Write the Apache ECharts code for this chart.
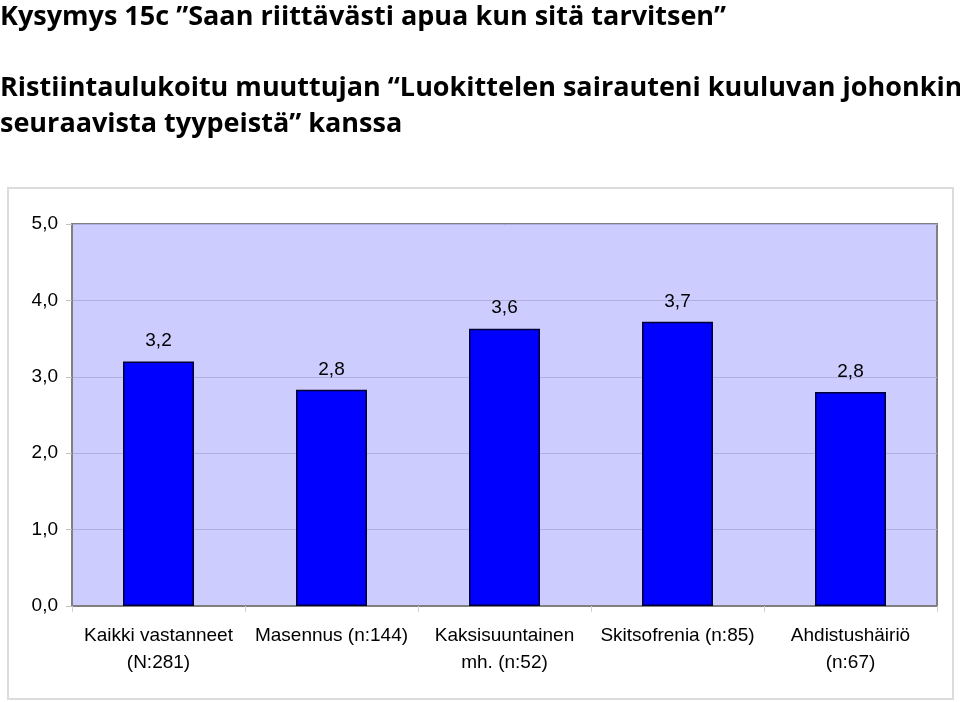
<!DOCTYPE html>
<html>
<head>
<meta charset="utf-8">
<script src="https://cdn.jsdelivr.net/npm/echarts@6/dist/echarts.min.js"></script>
<style>
html,body{margin:0;padding:0;background:#fff;}
#chart{width:960px;height:702px;}
</style>
</head>
<body>
<div id="chart"></div>
<script>
const titleLine1 = 'Kysymys 15c \u201DSaan riittävästi apua kun sitä tarvitsen\u201D';
const titleLine2 = 'Ristiintaulukoitu muuttujan \u201CLuokittelen sairauteni kuuluvan johonkin';
const titleLine3 = 'seuraavista tyypeistä\u201D kanssa';
const categories = [
  'Kaikki vastanneet\n(N:281)',
  'Masennus (n:144)',
  'Kaksisuuntainen\nmh. (n:52)',
  'Skitsofrenia (n:85)',
  'Ahdistushäiriö\n(n:67)'
];
const values = [3.2, 2.83, 3.63, 3.72, 2.8];
const yTicks = [0, 1, 2, 3, 4, 5];

const chart = echarts.init(document.getElementById('chart'), null, {renderer: 'canvas'});
const fmt = v => v.toFixed(1).replace('.', ',');
const titleFont = '"Open Sans", "Noto Sans", sans-serif';
const bodyFont = '"Liberation Sans", Arial, sans-serif';

chart.setOption({
  animation: false,
  backgroundColor: '#ffffff',
  title: [
    {text: titleLine1, left: 0, top: 1, textStyle: {fontFamily: titleFont, fontWeight: 'bold', fontSize: 27, lineHeight: 32, color: '#000'}, padding: 0},
    {text: titleLine2 + '\n' + titleLine3, left: 0, top: 70, textStyle: {fontFamily: titleFont, fontWeight: 'bold', fontSize: 27, lineHeight: 36, color: '#000'}, padding: 0}
  ],
  graphic: [{
    type: 'rect', shape: {x: 8, y: 188, width: 945, height: 511},
    style: {fill: 'none', stroke: '#dcdcdc', lineWidth: 2}, z: -1
  }],
  grid: {
    left: 72, right: 23, top: 224, bottom: 96,
    show: true, backgroundColor: '#ccccff', borderColor: '#808080', borderWidth: 2
  },
  xAxis: {
    type: 'category',
    data: categories,
    axisLine: {show: true, lineStyle: {color: '#808080', width: 2}},
    axisTick: {show: true, alignWithLabel: false, length: 6, lineStyle: {color: '#d0d0d0'}},
    axisLabel: {fontFamily: bodyFont, fontSize: 19, color: '#000', lineHeight: 27, margin: 16, interval: 0}
  },
  yAxis: {
    type: 'value',
    min: yTicks[0], max: yTicks[yTicks.length - 1], interval: 1,
    axisLine: {show: true, lineStyle: {color: '#808080', width: 2}},
    axisTick: {show: true, length: 6, lineStyle: {color: '#c0c0c0'}},
    splitLine: {show: true, lineStyle: {color: '#b0b0e0', width: 1}},
    axisLabel: {fontFamily: bodyFont, fontSize: 19, color: '#000', margin: 14, formatter: v => fmt(v)}
  },
  series: [{
    type: 'bar',
    data: values,
    barWidth: 71,
    itemStyle: {color: '#0000ff', borderColor: '#000033', borderWidth: 1.5},
    label: {show: true, position: 'top', distance: 11, fontFamily: bodyFont, fontSize: 19, color: '#000', formatter: p => fmt(p.value)}
  }]
});
</script>
</body>
</html>
